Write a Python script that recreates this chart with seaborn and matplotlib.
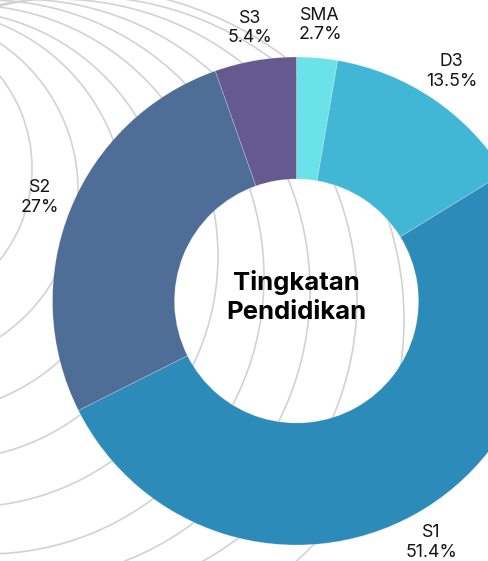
import matplotlib
matplotlib.use("Agg")

import matplotlib.pyplot as plt
from matplotlib.patches import Arc
import seaborn as sns

# ─────────────────────── data ──────────────────────────────────────────
levels = ["SMA", "D3", "S1", "S2", "S3"]
shares = [2.7, 13.5, 51.4, 27.0, 5.4]
share_text = ["2.7%", "13.5%", "51.4%", "27%", "5.4%"]
slice_colors = ["#6ae3e8", "#42b6d5", "#2d8bba", "#4e6e98", "#645a8f"]
center_title = "Tingkatan\nPendidikan"

# decorative contour rings behind the donut (pixel coords, y down)
ring_cx = [-116, -99, -76, -55, -33, -13, 19, 57, 80, 74]
ring_cy = [168, 190, 211, 235, 256, 277, 290, 299, 320, 340]
ring_r = [148, 177, 202, 225, 251, 277, 291, 300, 324, 353]
ring_upper_only = [False] * 9 + [True]

# ─────────────────────── layout (pixels) ───────────────────────────────
W, H = 488, 561
PIE_X, PIE_Y = 296.5, 301
PIE_R, RING_W = 244, 122

sns.set_theme(style="white")
plt.rcParams["font.family"] = ["Inter", "DejaVu Sans"]

fig = plt.figure(figsize=(W / 100, H / 100), dpi=100)
ax = fig.add_axes([0, 0, 1, 1])

# background rings
for cx, cy, r, upper in zip(ring_cx, ring_cy, ring_r, ring_upper_only):
    t1, t2 = (0, 180) if upper else (0, 360)
    ax.add_patch(Arc((cx, H - cy), 2 * r, 2 * r, theta1=t1, theta2=t2,
                     color="#d2d2d2", lw=1.2, zorder=0.5))

palette = sns.color_palette(slice_colors)
labels = [f"{lv}\n{tx}" for lv, tx in zip(levels, share_text)]
wedges, texts = ax.pie(
    shares, labels=labels, colors=palette, startangle=90, counterclock=False,
    center=(PIE_X, H - PIE_Y), radius=PIE_R, labeldistance=1.135,
    wedgeprops=dict(width=RING_W, edgecolor=(1, 1, 1, 0.3), linewidth=0.5),
    textprops=dict(ha="center", va="center", fontsize=12.8, color="#151515",
                   multialignment="center", linespacing=1.22),
)
for w in wedges:
    w.set_zorder(2)

ax.text(PIE_X, H - PIE_Y + 4, center_title, ha="center", va="center",
        fontsize=18.5, fontweight="bold", color="black", linespacing=1.35,
        zorder=3)

ax.set_xlim(0, W)
ax.set_ylim(0, H)
ax.set_aspect("equal")
ax.axis("off")

fig.savefig("out.png", dpi=100, facecolor="white")
